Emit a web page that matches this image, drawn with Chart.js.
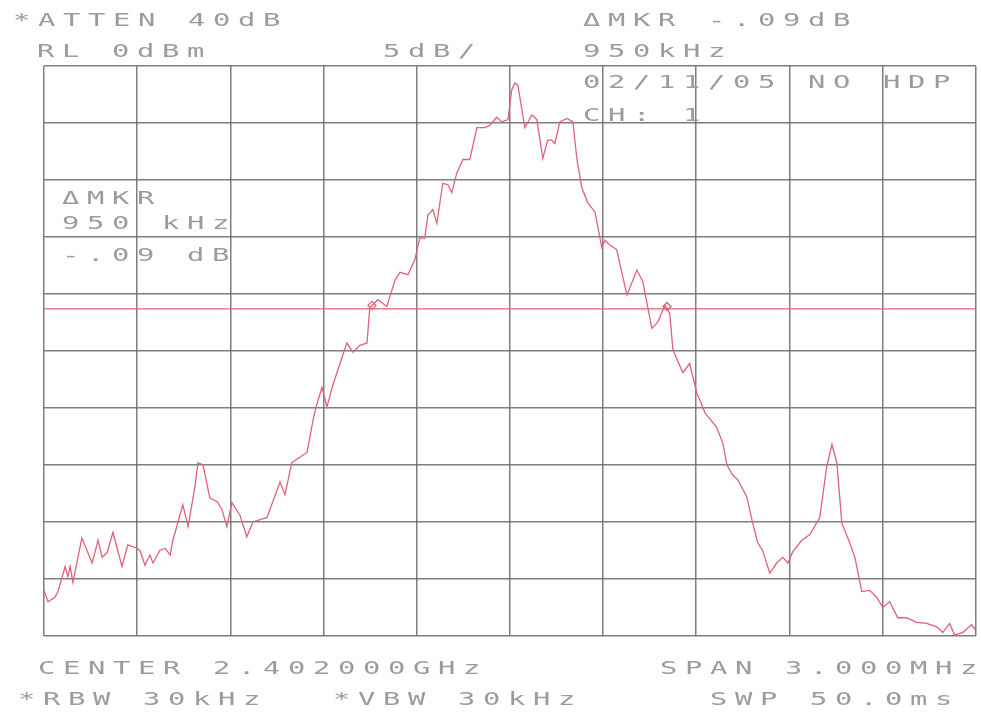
<!DOCTYPE html>
<html>
<head>
<meta charset="utf-8">
<script src="https://cdn.jsdelivr.net/npm/chart.js@4/dist/chart.umd.min.js"></script>
<style>
  html, body { margin: 0; padding: 0; background: #ffffff; }
  #c { display: block; }
</style>
</head>
<body>
<canvas id="c" width="981" height="716"></canvas>
<script>
// Frequency axis (MHz): center 2402.000 MHz, span 3 MHz, 300 kHz/div
const xTicks = [2400.5, 2400.8, 2401.1, 2401.4, 2401.7, 2402.0, 2402.3, 2402.6, 2402.9, 2403.2, 2403.5];
// Level axis (dBm): RL 0 dBm, 5 dB/div
const yTicks = [-50, -45, -40, -35, -30, -25, -20, -15, -10, -5, 0];

// Trace
const freqMHz = [
  2400.500, 2400.513, 2400.535, 2400.545, 2400.568, 2400.577, 2400.584, 2400.593, 2400.622, 2400.655,
  2400.674, 2400.687, 2400.703, 2400.722, 2400.751, 2400.770, 2400.799, 2400.809, 2400.825, 2400.841,
  2400.851, 2400.873, 2400.890, 2400.906, 2400.915, 2400.947, 2400.964, 2400.986, 2400.996, 2401.012,
  2401.034, 2401.057, 2401.073, 2401.089, 2401.105, 2401.131, 2401.153, 2401.173, 2401.218, 2401.260,
  2401.276, 2401.298, 2401.347, 2401.366, 2401.376, 2401.395, 2401.411, 2401.430, 2401.475, 2401.495,
  2401.517, 2401.540, 2401.549, 2401.575, 2401.604, 2401.630, 2401.646, 2401.672, 2401.694, 2401.710,
  2401.726, 2401.736, 2401.752, 2401.765, 2401.784, 2401.800, 2401.813, 2401.829, 2401.849, 2401.871,
  2401.894, 2401.920, 2401.936, 2401.958, 2401.974, 2401.994, 2402.006, 2402.016, 2402.026, 2402.048,
  2402.071, 2402.087, 2402.106, 2402.122, 2402.135, 2402.145, 2402.161, 2402.184, 2402.203, 2402.216,
  2402.232, 2402.251, 2402.274, 2402.296, 2402.306, 2402.322, 2402.344, 2402.377, 2402.409, 2402.428,
  2402.457, 2402.476, 2402.499, 2402.515, 2402.525, 2402.557, 2402.579, 2402.602, 2402.612, 2402.628,
  2402.666, 2402.686, 2402.699, 2402.718, 2402.734, 2402.740, 2402.763, 2402.782, 2402.798, 2402.814,
  2402.837, 2402.859, 2402.879, 2402.895, 2402.911, 2402.940, 2402.966, 2402.998, 2403.020, 2403.037,
  2403.053, 2403.069, 2403.094, 2403.111, 2403.133, 2403.159, 2403.181, 2403.201, 2403.223, 2403.249,
  2403.278, 2403.310, 2403.342, 2403.375, 2403.394, 2403.416, 2403.432, 2403.458, 2403.487, 2403.500
];
const levelDbm = [
  -46.0, -47.0, -46.6, -46.1, -43.9, -44.8, -43.9, -45.3, -41.4, -43.6,
  -41.6, -43.1, -42.7, -40.9, -43.9, -42.0, -42.3, -42.5, -43.8, -42.9,
  -43.6, -42.5, -42.3, -42.9, -41.6, -38.5, -40.4, -36.9, -34.8, -35.0,
  -37.9, -38.2, -38.9, -40.4, -38.3, -39.4, -41.3, -40.0, -39.6, -36.5,
  -37.6, -34.8, -33.9, -31.1, -29.9, -28.2, -29.9, -28.0, -24.3, -25.1,
  -24.5, -24.3, -21.2, -20.5, -21.1, -18.8, -18.1, -18.3, -17.0, -15.1,
  -15.1, -13.1, -12.6, -13.8, -10.3, -10.4, -11.1, -9.4, -8.2, -8.2,
  -5.4, -5.4, -5.2, -4.5, -4.9, -4.7, -2.1, -1.5, -1.7, -5.4,
  -4.3, -4.7, -8.1, -6.5, -6.5, -6.8, -4.9, -4.6, -4.9, -8.2,
  -10.7, -12.0, -12.8, -15.9, -15.3, -15.7, -16.1, -20.1, -17.9, -18.9,
  -23.0, -22.5, -21.0, -21.7, -24.9, -26.9, -26.1, -28.7, -29.3, -30.4,
  -31.7, -33.1, -35.0, -35.9, -36.3, -36.6, -37.8, -40.1, -41.8, -42.5,
  -44.5, -43.6, -43.1, -43.6, -42.6, -41.6, -41.1, -39.6, -35.2, -33.2,
  -34.8, -40.1, -41.8, -43.1, -46.1, -46.0, -46.6, -47.5, -47.0, -48.4,
  -48.4, -48.8, -48.9, -49.2, -49.7, -48.9, -49.9, -49.7, -49.0, -49.5
];

// Display line and markers
const displayLineDbm = [-21.3];
const markerFreqMHz = [2401.556, 2402.506];
const markerDbm = [-21.0, -21.1];

// Annotation texts
const textRows = [
  { t: "*ATTEN 40dB", x: 13, y: 26 },
  { t: "RL 0dBm", x: 37, y: 57 },
  { t: "5dB/", x: 383, y: 57 },
  { t: "\u0394MKR -.09dB", x: 583, y: 26 },
  { t: "950kHz", x: 583, y: 57 },
  { t: "02/11/05 NO HDP", x: 583, y: 88 },
  { t: "CH: 1", x: 583, y: 121 },
  { t: "\u0394MKR", x: 62, y: 204 },
  { t: "950 kHz", x: 62, y: 229 },
  { t: "-.09 dB", x: 62, y: 261 },
  { t: "CENTER 2.402000GHz", x: 38, y: 674 },
  { t: "SPAN 3.000MHz", x: 660, y: 674 },
  { t: "*RBW 30kHz", x: 18, y: 705 },
  { t: "*VBW 30kHz", x: 333, y: 705 },
  { t: "SWP 50.0ms", x: 710, y: 705 }
];

const TRACE = 'rgb(224,98,118)';
const GRID = 'rgba(105,105,105,0.85)';
const TEXT = 'rgb(155,155,155)';

const bgPlugin = {
  id: 'bg',
  beforeDraw(chart) {
    const c = chart.ctx;
    c.save();
    c.fillStyle = '#ffffff';
    c.fillRect(0, 0, chart.width, chart.height);
    c.restore();
  }
};

const textPlugin = {
  id: 'plotterText',
  afterDraw(chart) {
    const c = chart.ctx;
    c.save();
    c.fillStyle = TEXT;
    c.font = '18px "DejaVu Sans Mono"';
    c.textBaseline = 'alphabetic';
    c.textAlign = 'left';
    const pitch = 25;
    textRows.forEach(r => {
      for (let i = 0; i < r.t.length; i++) {
        const ch = r.t[i];
        if (ch === ' ') continue;
        c.save();
        c.translate(r.x + i * pitch, r.y);
        c.scale(1.6, 1);
        c.fillText(ch, 0, 0);
        c.restore();
      }
    });
    c.restore();
  }
};

const xMin = xTicks[0], xMax = xTicks[xTicks.length - 1];

new Chart(document.getElementById('c'), {
  type: 'scatter',
  data: {
    datasets: [
      {
        label: 'display line',
        data: [{ x: xMin, y: displayLineDbm[0] }, { x: xMax, y: displayLineDbm[0] }],
        showLine: true,
        borderColor: TRACE,
        borderWidth: 1.3,
        pointRadius: 0,
        order: 2
      },
      {
        label: 'trace',
        data: freqMHz.map((f, i) => ({ x: f, y: levelDbm[i] })),
        showLine: true,
        borderColor: TRACE,
        borderWidth: 1.3,
        pointRadius: 0,
        tension: 0,
        order: 1
      },
      {
        label: 'markers',
        data: markerFreqMHz.map((f, i) => ({ x: f, y: markerDbm[i] })),
        showLine: false,
        pointStyle: 'rectRot',
        pointRadius: 4,
        borderColor: TRACE,
        borderWidth: 1.3,
        backgroundColor: 'rgba(0,0,0,0)',
        order: 0
      }
    ]
  },
  options: {
    responsive: false,
    animation: false,
    devicePixelRatio: 1,
    layout: { padding: { left: 44, top: 66, right: 5, bottom: 80 } },
    plugins: { legend: { display: false }, tooltip: { enabled: false } },
    scales: {
      x: {
        type: 'linear',
        min: xMin,
        max: xMax,
        afterBuildTicks: s => { s.ticks = xTicks.map(v => ({ value: v })); },
        afterFit: s => { s.height = 0; },
        ticks: { display: false },
        grid: { color: GRID, lineWidth: 1.5, drawTicks: false },
        border: { display: false }
      },
      y: {
        type: 'linear',
        min: yTicks[0],
        max: yTicks[yTicks.length - 1],
        afterBuildTicks: s => { s.ticks = yTicks.map(v => ({ value: v })); },
        afterFit: s => { s.width = 0; },
        ticks: { display: false },
        grid: { color: GRID, lineWidth: 1.5, drawTicks: false },
        border: { display: false }
      }
    }
  },
  plugins: [bgPlugin, textPlugin]
});
</script>
</body>
</html>
